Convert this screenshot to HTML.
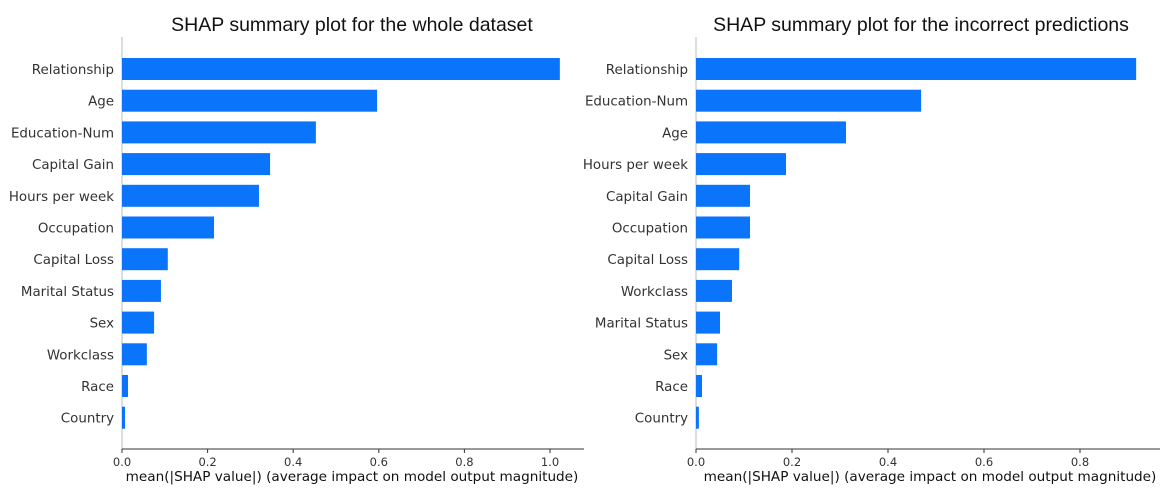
<!DOCTYPE html>
<html><head><meta charset="utf-8"><style>
body{margin:0;background:#fff;}
svg{display:block;font-family:"DejaVu Sans","Liberation Sans",sans-serif;}
.t{font-family:"Liberation Sans",sans-serif;font-size:19.5px;fill:#111;}
.lab{font-size:13.4px;fill:#333;}
.tick{font-size:11.5px;fill:#333;}
.xl{font-size:13.6px;fill:#111;}
</style></head><body>
<svg id="c" width="1161" height="491"></svg>
<script>
const leftFeatures=["Relationship","Age","Education-Num","Capital Gain","Hours per week","Occupation","Capital Loss","Marital Status","Sex","Workclass","Race","Country"];
const leftValues=[1.023,0.596,0.453,0.346,0.320,0.215,0.107,0.091,0.075,0.058,0.014,0.007];
const leftTicks=[0,0.2,0.4,0.6,0.8,1.0];
const rightFeatures=["Relationship","Education-Num","Age","Hours per week","Capital Gain","Occupation","Capital Loss","Workclass","Marital Status","Sex","Race","Country"];
const rightValues=[0.917,0.469,0.3125,0.1875,0.1125,0.1125,0.09,0.075,0.05,0.044,0.0125,0.006];
const rightTicks=[0,0.2,0.4,0.6,0.8];
const NS="http://www.w3.org/2000/svg";
const svg=document.getElementById('c');
function mk(tag,attrs,text){const e=document.createElementNS(NS,tag);for(const k in attrs)e.setAttribute(k,attrs[k]);if(text!==undefined)e.textContent=text;svg.appendChild(e);return e;}
function panel(id,title,titleX,x0,scale,axEnd,xlX,feats,vals,ticks){
  const xs=v=>x0+v*scale;
  const ys=i=>69+i*31.7;
  let e=mk('text',{x:titleX,y:31,'text-anchor':'middle',class:'t'},title);
  
  
  e=mk('line',{x1:x0,y1:37,x2:x0,y2:449,stroke:'#bbb','stroke-width':1});
  
  
  e=mk('line',{x1:x0,y1:449,x2:axEnd,y2:449,stroke:'#333','stroke-width':1});
  
  
  feats.forEach((f,i)=>{
    let b=mk('rect',{x:x0,y:ys(i)-11,width:xs(vals[i])-x0,height:22,fill:'#0a74fb'});
    
    
    let t=mk('text',{x:x0-8,y:ys(i)+5,'text-anchor':'end',class:'lab'},f);
    
    
  });
  ticks.forEach(v=>{
    let l=mk('line',{x1:xs(v),y1:449,x2:xs(v),y2:453,stroke:'#333'});
    
    
    let t=mk('text',{x:xs(v),y:466,'text-anchor':'middle',class:'tick'},v.toFixed(1));
    
    
  });
  e=mk('text',{x:xlX,y:481,'text-anchor':'middle',class:'xl'},'mean(|SHAP value|) (average impact on model output magnitude)');
  
  
}
panel('left','SHAP summary plot for the whole dataset',352,122,428,584,352,leftFeatures,leftValues,leftTicks);
panel('right','SHAP summary plot for the incorrect predictions',921,696,480,1160,930,rightFeatures,rightValues,rightTicks);
</script>
</body></html>
